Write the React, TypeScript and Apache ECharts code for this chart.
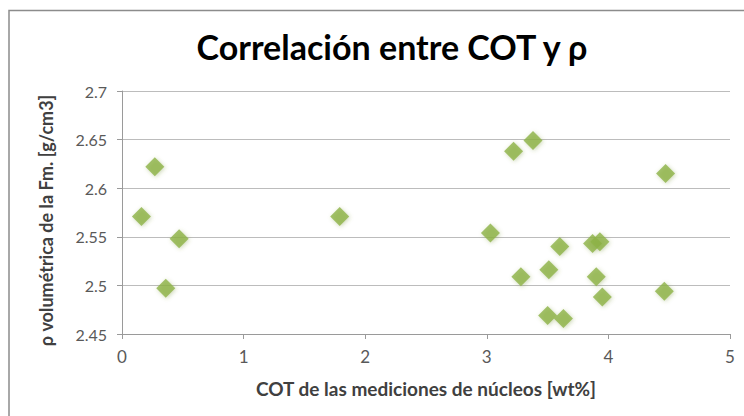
import React, { useEffect, useRef } from "react";
import * as echarts from "echarts";

const titleText = "Correlación entre COT y ρ";
const xAxisTitle = "COT de las mediciones de núcleos [wt%]";
const yAxisTitle = "ρ volumétrica de la Fm. [g/cm3]";

const cotValues = [0.16, 0.27, 0.47, 0.36, 1.79, 3.03, 3.22, 3.38, 3.28, 3.51, 3.5, 3.63, 3.6, 3.87, 3.93, 3.9, 3.95, 4.46, 4.47];
const rhoValues = [2.571, 2.622, 2.548, 2.497, 2.571, 2.554, 2.638, 2.649, 2.509, 2.516, 2.469, 2.466, 2.54, 2.543, 2.545, 2.509, 2.488, 2.494, 2.615];

const xMin = 0;
const xMax = 5;
const xStep = 1;
const yMin = 2.45;
const yMax = 2.7;
const yStep = 0.05;

const FONT = "Lato, 'Open Sans', sans-serif";

export default function App() {
  const ref = useRef<HTMLDivElement>(null);
  useEffect(() => {
    if (!ref.current) return;
    const chart = echarts.init(ref.current, null, { renderer: "svg" });
    const data = cotValues.map((x, i) => [x, rhoValues[i]]);
    chart.setOption({
      animation: false,
      backgroundColor: "#ffffff",
      textStyle: { fontFamily: FONT },
      title: {
        text: titleText,
        left: 387,
        top: 24,
        textAlign: "center",
        textStyle: { fontFamily: FONT, fontSize: 34, fontWeight: "bold", color: "#000000" },
      },
      graphic: [
        {
          type: "rect",
          shape: { x: 9, y: 10.5, width: 800, height: 500 },
          style: { fill: "none", stroke: "#8c8c8c", lineWidth: 1.5 },
          z: 10,
        },
      ],
      grid: { left: 122, right: 14, top: 91, bottom: 82 },
      xAxis: {
        type: "value",
        min: xMin,
        max: xMax,
        interval: xStep,
        name: xAxisTitle,
        nameLocation: "middle",
        nameGap: 45,
        nameTextStyle: { fontFamily: FONT, fontSize: 19, fontWeight: "bold", color: "#404040" },
        axisLine: { show: true, lineStyle: { color: "#9a9a9a", width: 1 } },
        axisTick: { show: true, inside: false, length: 5, lineStyle: { color: "#9a9a9a" } },
        axisLabel: { fontFamily: FONT, fontSize: 17, color: "#595959", margin: 14 },
        splitLine: { show: false },
      },
      yAxis: {
        type: "value",
        min: yMin,
        max: yMax,
        interval: yStep,
        name: yAxisTitle,
        nameLocation: "middle",
        nameGap: 67,
        nameRotate: 90,
        nameTextStyle: {
          fontFamily: FONT,
          fontSize: 18,
          fontWeight: "bold",
          color: "#404040",
          padding: [0, 16, 0, 0],
        },
        axisLine: { show: true, lineStyle: { color: "#9a9a9a", width: 1 } },
        axisTick: { show: true, inside: false, length: 5, lineStyle: { color: "#9a9a9a" } },
        axisLabel: {
          fontFamily: FONT,
          fontSize: 16,
          color: "#595959",
          margin: 15,
          formatter: (v: number) => String(+v.toFixed(2)),
        },
        splitLine: { show: true, lineStyle: { color: "#bcbcbc", width: 1 } },
      },
      series: [
        {
          type: "scatter",
          data,
          symbol: "diamond",
          symbolSize: 19,
          itemStyle: {
            color: "#8db346",
            shadowColor: "rgba(120,150,60,0.45)",
            shadowBlur: 4,
            shadowOffsetX: 1,
            shadowOffsetY: 1,
          },
        },
      ],
    });
    return () => chart.dispose();
  }, []);
  return (
    <div
      ref={ref}
      style={{ position: "fixed", left: 0, top: 0, width: 744, height: 416 }}
    />
  );
}
